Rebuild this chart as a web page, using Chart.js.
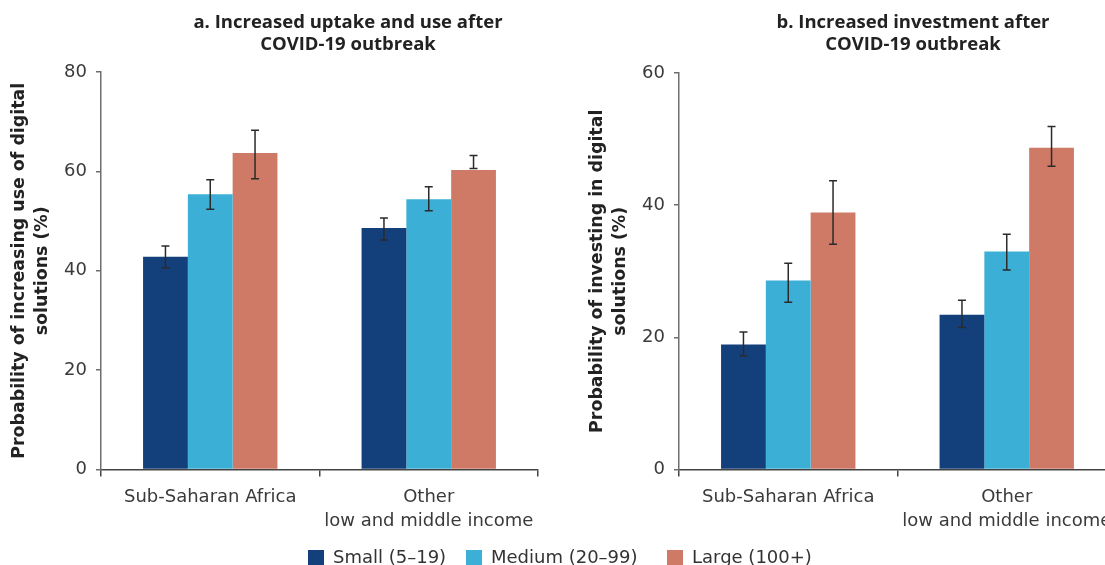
<!DOCTYPE html>
<html>
<head>
<meta charset="utf-8">
<script src="https://cdn.jsdelivr.net/npm/chart.js@4/dist/chart.umd.min.js"></script>
<style>
  html, body { margin: 0; padding: 0; width: 1105px; height: 565px; overflow: hidden; background: #fff; }
  #wrap { position: relative; width: 1105px; height: 565px; overflow: hidden; }
  canvas { position: absolute; top: 0; }
  #cA { left: 0; }
  #cB { left: 578px; }
  #legend { position: absolute; top: 545px; left: 0; width: 1105px; height: 22px; font-family: "DejaVu Sans", sans-serif; font-size: 18px; color: #333; }
  .item { position: absolute; top: 0; display: flex; align-items: center; height: 22px; white-space: nowrap; }
  .sw { width: 16px; height: 17px; margin-right: 9px; display: inline-block; position: relative; top: 2px; }
</style>
</head>
<body>
<div id="wrap">
  <canvas id="cA" width="696" height="565"></canvas>
  <canvas id="cB" width="670" height="565"></canvas>
  <div id="legend"></div>
</div>
<script>
// ---- data ----
const categories = ['Sub-Saharan Africa', ['Other', 'low and middle income']];
const seriesNames = ['Small (5\u201319)', 'Medium (20\u201399)', 'Large (100+)'];
const seriesColors = ['#133f7a', '#3bafd6', '#cf7a66'];

const titleA = ['a. Increased uptake and use after', 'COVID-19 outbreak'];
const yTitleA = ['Probability of increasing use of digital', 'solutions (%)'];
const smallA = [42.8, 48.6];
const mediumA = [55.4, 54.4];
const largeA = [63.7, 60.3];
const smallA_lo = [40.6, 46.2], smallA_hi = [45.0, 50.6];
const mediumA_lo = [52.4, 52.1], mediumA_hi = [58.3, 56.9];
const largeA_lo = [58.5, 60.6], largeA_hi = [68.3, 63.2];
const yTicksA = [0, 20, 40, 60, 80];

const titleB = ['b. Increased investment after', 'COVID-19 outbreak'];
const yTitleB = ['Probability of investing in digital', 'solutions (%)'];
const smallB = [18.9, 23.4];
const mediumB = [28.6, 33.0];
const largeB = [38.9, 48.7];
const smallB_lo = [17.2, 21.5], smallB_hi = [20.8, 25.6];
const mediumB_lo = [25.3, 30.2], mediumB_hi = [31.2, 35.6];
const largeB_lo = [34.1, 45.9], largeB_hi = [43.7, 51.9];
const yTicksB = [0, 20, 40, 60];

Chart.defaults.font.family = '"DejaVu Sans", sans-serif';
Chart.defaults.color = '#333';

const errorBars = {
  id: 'errorBars',
  afterDatasetsDraw(chart) {
    const ctx = chart.ctx;
    const ys = chart.scales.y;
    ctx.save();
    ctx.strokeStyle = '#2b2b2b';
    ctx.lineWidth = 1.5;
    chart.data.datasets.forEach((ds, i) => {
      const meta = chart.getDatasetMeta(i);
      meta.data.forEach((bar, j) => {
        const x = bar.x;
        const y1 = ys.getPixelForValue(ds.errLo[j]);
        const y2 = ys.getPixelForValue(ds.errHi[j]);
        ctx.beginPath();
        ctx.moveTo(x, y1); ctx.lineTo(x, y2);
        ctx.moveTo(x - 4, y1); ctx.lineTo(x + 4, y1);
        ctx.moveTo(x - 4, y2); ctx.lineTo(x + 4, y2);
        ctx.stroke();
      });
    });
    ctx.restore();
  }
};

function makeChart(id, title, yTitle, vals, los, his, ticks, padRight, plotTop) {
  const yMax = ticks[ticks.length - 1];
  new Chart(document.getElementById(id), {
    type: 'bar',
    data: {
      labels: categories,
      datasets: vals.map((v, i) => ({
        label: seriesNames[i],
        data: v,
        errLo: los[i],
        errHi: his[i],
        backgroundColor: seriesColors[i],
        borderWidth: 0,
        categoryPercentage: 0.615,
        barPercentage: 1.0
      }))
    },
    options: {
      responsive: false,
      animation: false,
      devicePixelRatio: 1,
      layout: { padding: 0 },
      plugins: {
        legend: { display: false },
        tooltip: { enabled: false },
        title: {
          display: true,
          text: title,
          color: '#222',
          font: { family: '"Open Sans", sans-serif', size: 18.5, weight: 'bold', lineHeight: '22px' },
          padding: { top: 12, bottom: plotTop - 56 }
        }
      },
      scales: {
        x: {
          afterFit(s) { s.height = 565 - 469.5; },
          grid: { display: true, drawOnChartArea: false, drawTicks: true, tickLength: 7, color: '#444', lineWidth: 1.5 },
          border: { display: true, color: '#444', width: 1.5 },
          ticks: { color: '#3a3a3a', font: { size: 18, lineHeight: '24px' }, padding: 9, maxRotation: 0, autoSkip: false }
        },
        y: {
          min: 0, max: yMax,
          afterFit(s) { s.width = 101; },
          afterBuildTicks(s) { s.ticks = ticks.map(v => ({ value: v })); },
          grid: { display: true, drawOnChartArea: false, drawTicks: true, tickLength: 5, color: '#6d6e71', lineWidth: 1.5 },
          border: { display: true, color: '#6d6e71', width: 1.5 },
          ticks: { color: '#3a3a3a', font: { size: 18 }, padding: 9 },
          title: {
            display: true,
            text: yTitle,
            color: '#222',
            font: { size: 17.4, weight: 'bold', lineHeight: '23px' },
            padding: { top: 7.5, bottom: 0 }
          }
        },
        spacer: {
          type: 'linear',
          position: 'right',
          display: true,
          afterFit(s) { s.width = padRight; },
          grid: { display: false },
          border: { display: false },
          ticks: { display: false }
        }
      }
    },
    plugins: [errorBars]
  });
}

makeChart('cA', titleA, yTitleA,
  [smallA, mediumA, largeA], [smallA_lo, mediumA_lo, largeA_lo], [smallA_hi, mediumA_hi, largeA_hi],
  yTicksA, 696 - 538, 72);
makeChart('cB', titleB, yTitleB,
  [smallB, mediumB, largeB], [smallB_lo, mediumB_lo, largeB_lo], [smallB_hi, mediumB_hi, largeB_hi],
  yTicksB, 670 - (1116 - 578), 73);

// legend (HTML text)
const legendPos = [308, 466, 667];
const lg = document.getElementById('legend');
seriesNames.forEach((n, i) => {
  const d = document.createElement('div');
  d.className = 'item';
  d.style.left = legendPos[i] + 'px';
  d.innerHTML = '<span class="sw" style="background:' + seriesColors[i] + '"></span><span>' + n + '</span>';
  lg.appendChild(d);
});
</script>
</body>
</html>
